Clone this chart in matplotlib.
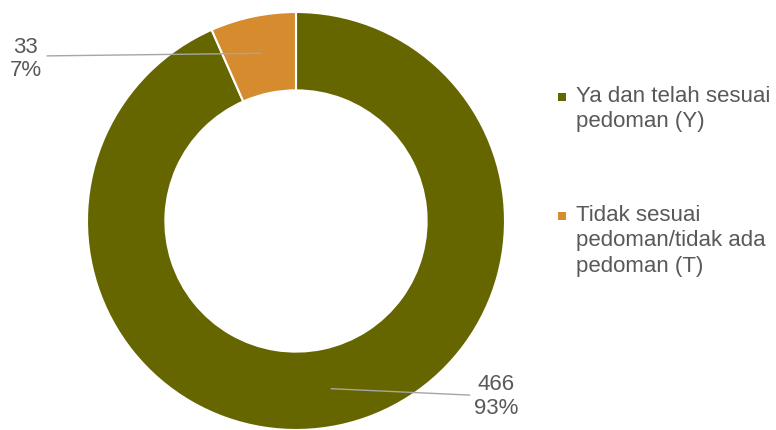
import numpy as np
import matplotlib
matplotlib.use('Agg')
import matplotlib.pyplot as plt
from matplotlib.patches import Rectangle

labels = ['Ya dan telah sesuai\npedoman (Y)',
          'Tidak sesuai\npedoman/tidak ada\npedoman (T)']
counts = [466, 33]
pcts = ['93%', '7%']
colors = ['#666600', '#D68B2F']
TXT = '#595959'

plt.rcParams['font.family'] = ['Liberation Sans', 'DejaVu Sans']

fig = plt.figure(figsize=(7.76, 4.30), dpi=100)
ax = fig.add_axes([87 / 776, 0 / 430, 418 / 776, 418 / 430])
wedges, _ = ax.pie(counts, colors=colors, startangle=90, counterclock=False,
                   radius=1.0, wedgeprops=dict(width=0.375, edgecolor='white',
                                               linewidth=1.5))
ax.set_xlim(-1, 1)
ax.set_ylim(-1, 1)
ax.set_aspect('equal')
for w in wedges:
    w.set_clip_on(False)

# data labels with leader lines
lab_xy = [(0.957, -0.84), (-1.292, 0.775)]
line_end = [(0.83, -0.833), (-1.19, 0.79)]
for w, n, p, (tx, ty), (lx, ly) in zip(wedges, counts, pcts, lab_xy, line_end):
    ang = np.deg2rad((w.theta1 + w.theta2) / 2)
    r = 0.82
    ax.plot([r * np.cos(ang), lx], [r * np.sin(ang), ly], color='#A6A6A6',
            lw=1.0, clip_on=False)
    ax.text(tx, ty, f'{n}\n{p}', ha='center', va='center', fontsize=16,
            color=TXT, linespacing=1.15, clip_on=False)

# legend
leg_y = [97, 216]
for lab, col, y in zip(labels, colors, leg_y):
    fig.patches.append(Rectangle((558 / 776, 1 - (y + 4) / 430), 8 / 776,
                                 8 / 430, transform=fig.transFigure,
                                 facecolor=col, edgecolor='none'))
    fig.text(576 / 776, 1 - (y - 11) / 430, lab, ha='left', va='top',
             fontsize=16, color=TXT, linespacing=1.28)

fig.savefig('out.png', dpi=100)
